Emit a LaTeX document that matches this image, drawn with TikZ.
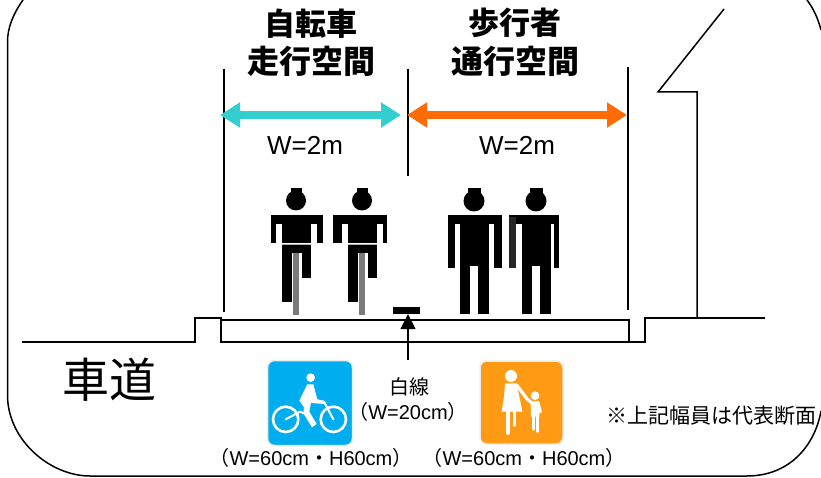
\documentclass[tikz,border=0pt]{standalone}
\usepackage{fontspec}
\usetikzlibrary{arrows.meta}
\setmainfont{Liberation Sans}
\newfontfamily\cjk{Noto Sans CJK JP}
\newcommand{\fs}[1]{\fontsize{#1}{#1}\selectfont}
% #1 head x, #2 left outer offset, #3 right outer offset
\newcommand{\figcyclist}[3]{%
 \begin{scope}[shift={(#1,0)}]
  \fill[black] (0,200.5) circle (10);
  \fill[black] (-5.5,188) rectangle (6,193);
  \fill[black] (#2,215) rectangle (#3,243);
  \fill[white] (-20,224) rectangle (-14,243);
  \fill[white] (15,224) rectangle (21,243);
  \fill[black] (-14.5,245) rectangle (15,253);
  \fill[black] (-14.5,245) rectangle (-4,302);
  \fill[black] (5.5,245) rectangle (15,278);
  \fill[black!52] (-3,253) rectangle (3,315);
  \draw[gray!60,line width=.8pt] (-14,244) -- (15,244);
 \end{scope}}
% #1 head x, #2 left outer, #3 right outer, #4 left arm width, #5 right arm width, #6 left arm colour
\newcommand{\figwalker}[6]{%
 \fill[black] (#1,201) circle (10.5);
 \fill[black] (#1-6,188) rectangle (#1+6.5,193);
 \fill[black] (#2,215) rectangle (#3,224);
 \fill[#6] (#2,217) rectangle (#2+#4,268);
 \fill[black] (#3-#5,215) rectangle (#3,268);
 \fill[black] (#1-14,215) rectangle (#1+15,266);
 \fill[black] (#1-14,260) rectangle (#1-4,314);
 \fill[black] (#1+4,260) rectangle (#1+15,314);
}
\tikzset{
 frameline/.style={draw=black,line width=1.5pt},
 road/.style={draw=black,line width=1.9pt,line join=miter},
 thin road/.style={draw=black,line width=1.3pt},
 guide/.style={draw=black,line width=1.5pt},
 dim/.style={line width=8pt,{Triangle[length=20pt,width=24pt]}-{Triangle[length=20pt,width=24pt]}},
 lbl/.style={inner sep=0pt,outer sep=0pt,align=center,text=black},
 iconpart/.style={draw=white,line cap=round,line join=round},
}
\begin{document}
\begin{tikzpicture}[x=1pt,y=-1pt]
\useasboundingbox (0,0) rectangle (821,478);
% frame
\draw[frameline] (23,0) .. controls (13,14) and (7.5,28) .. (7.5,42) -- (7.5,395)
  .. controls (7.5,440) and (50,476) .. (90,476) -- (747,476)
  .. controls (790,476) and (815,445) .. (821,411);
\draw[frameline] (807,0) .. controls (813,8) and (818,18) .. (821,30);
% ground
\draw[road] (22,342) -- (195,342) -- (195,318) -- (221,318) -- (221,342) -- (645,342) -- (645,318) -- (765,318);
\draw[thin road] (221,320) -- (629,320) -- (629,342);
\draw[road,line width=1.5pt] (697,318) -- (697,92) -- (658,92) -- (724,9);
% guides
\coordinate (g1t) at (224,69); \coordinate (g1b) at (224,312);
\coordinate (g2t) at (408,69); \coordinate (g2b) at (408,176);
\coordinate (g3t) at (628,67); \coordinate (g3b) at (628,310);
\draw[guide] (g1t) -- (g1b);
\draw[guide] (g2t) -- (g2b);
\draw[guide] (g3t) -- (g3b);
% dimension arrows
\coordinate (a1l) at (220,115); \coordinate (a1r) at (401,115);
\coordinate (a2l) at (407,115); \coordinate (a2r) at (627,115);
\draw[dim,color={rgb,255:red,51;green,207;blue,207}] (a1l) -- (a1r);
\draw[dim,color={rgb,255:red,255;green,107;blue,5}] (a2l) -- (a2r);
% labels
\node[lbl] (h1) at (311,42.5) {\fs{31}\cjk\bfseries 自転車\\[7pt]\fs{32}\cjk\bfseries 走行空間};
\node[lbl] (h2) at (515,42.5) {\fs{31}\cjk\bfseries 歩行者\\[7pt]\fs{32}\cjk\bfseries 通行空間};
\node[lbl] (w1) at (305,145) {\fs{26}W=2m};
\node[lbl] (w2) at (517,145) {\fs{26}W=2m};
\node[lbl] (road) at (109.5,380) {\fs{47}\cjk 車道};
% figures
\figcyclist{296}{-25}{27}
\figcyclist{362}{-29}{25}
\figwalker{474}{448}{502}{6.5}{8}{black}
\figwalker{536}{509}{559}{7}{5}{black!85}
% white line
\node[fill=black,minimum width=27pt,minimum height=7pt,inner sep=0pt] (bar) at (406.5,310.5) {};
\coordinate (barfoot) at (408,360);
\draw[line width=1.5pt,-{Triangle[length=15pt,width=15pt]}] (barfoot) -- (bar.south -| barfoot);
\node[lbl] (wl) at (409,387) {\fs{20}\cjk 白線};
\node[lbl] (wlw) at (408,412) {\fs{20}{\cjk （}W=20cm{\cjk ）}};
% bicycle sign
\node[draw=black!8,line width=1.5pt,fill={rgb,255:red,0;green,174;blue,239},rounded corners=7pt,minimum width=85pt,minimum height=85pt,inner sep=0pt] (s1) at (310,403) {};
\begin{scope}[shift={(200,350)},x=0.3333pt,y=-0.3333pt]
 \fill[white] (332,83) circle (13);
 \fill[white] (322,103) -- (340,103) -- (352,148) -- (372,152) -- (376,162) -- (345,160) -- (333,158) -- (328,185) -- (350,222) -- (336,232) -- (310,190) -- (312,172) -- (298,152) -- cycle;
 \draw[iconpart,line width=2.6pt] (257,208) circle (38);
 \draw[iconpart,line width=2.6pt] (400,208) circle (38);
 \draw[iconpart,line width=2pt] (372,155) -- (400,208);
 \draw[iconpart,line width=2pt] (257,208) -- (300,185) -- (312,190);
\end{scope}
% pedestrian sign
\node[draw=black!8,line width=1.5pt,fill={rgb,255:red,255;green,154;blue,20},rounded corners=7pt,minimum width=83pt,minimum height=83pt,inner sep=0pt] (s2) at (521.5,402.5) {};
\begin{scope}[shift={(470,350)},x=0.3333pt,y=-0.3333pt]
 \fill[white] (123,78) circle (18);
 \fill[white] (105,100) -- (140,100) -- (150,150) -- (157,185) -- (95,185) -- (102,140) -- cycle;
 \draw[iconpart,line width=4.5pt] (114,185) -- (114,248);
 \draw[iconpart,line width=3pt] (134,185) -- (134,226);
 \draw[iconpart,line width=3.2pt] (140,105) -- (172,148) -- (185,158);
 \fill[white] (195,137) circle (13);
 \fill[white] (182,155) -- (207,153) -- (216,186) -- (208,190) -- (208,200) -- (183,200) -- cycle;
 \draw[iconpart,line width=3.5pt] (190,195) -- (190,238);
 \draw[iconpart,line width=3.5pt] (203,195) -- (203,245);
\end{scope}
% captions
\node[lbl] (c1) at (311,458) {\fs{20}{\cjk （}W=60cm{\cjk ・}H60cm{\cjk ）}};
\node[lbl] (c2) at (524,458) {\fs{20}{\cjk （}W=60cm{\cjk ・}H60cm{\cjk ）}};
\node[lbl] (note) at (711,416) {\fs{21}\cjk ※上記幅員は代表断面};
\end{tikzpicture}
\end{document}
